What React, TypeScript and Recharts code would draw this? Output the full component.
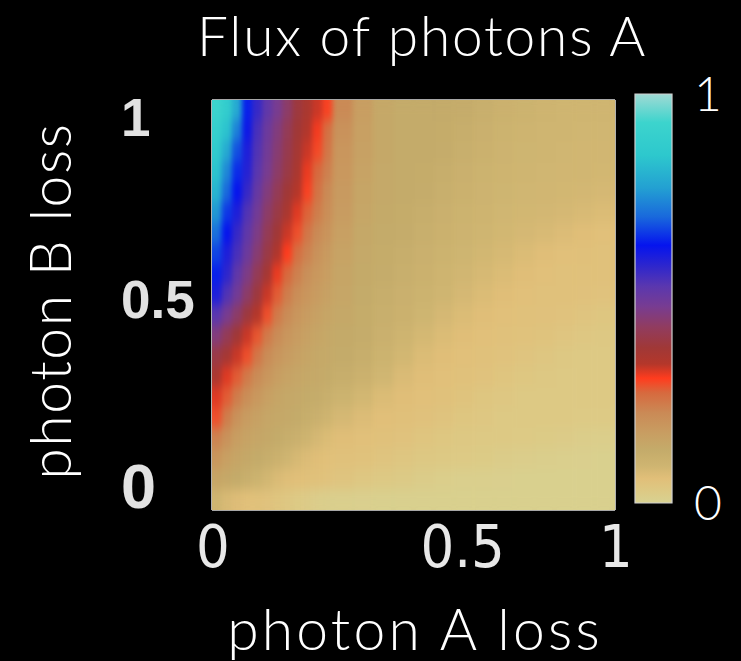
import React from "react";
import { ScatterChart, Scatter, XAxis, YAxis, BarChart, Bar } from "recharts";

// column edges in "photon A loss" (finer on the left where the flux changes fast)
const xEdges = [
  0, 0.025, 0.05, 0.075, 0.1, 0.125, 0.15, 0.175, 0.2, 0.225, 0.25, 0.275, 0.3,
  0.35, 0.4, 0.45, 0.5, 0.55, 0.6, 0.65, 0.7, 0.75, 0.8, 0.85, 0.9, 0.95, 1,
];
// row edges in "photon B loss", top to bottom
const yEdges = [
  1, 0.95, 0.9, 0.85, 0.8, 0.75, 0.7, 0.65, 0.6, 0.55, 0.5, 0.45, 0.4, 0.35,
  0.3, 0.25, 0.2, 0.15, 0.1, 0.05, 0,
];

// flux of photons A, one row per yEdges band (top row first)
const fluxRows: number[][] = [
  [0.93, 0.88, 0.79, 0.64, 0.57, 0.52, 0.48, 0.44, 0.39, 0.36, 0.33, 0.3, 0.22, 0.17, 0.14, 0.13, 0.13, 0.13, 0.125, 0.115, 0.105, 0.1, 0.095, 0.09, 0.09, 0.09],
  [0.9, 0.84, 0.73, 0.62, 0.55, 0.5, 0.46, 0.42, 0.38, 0.345, 0.31, 0.26, 0.2, 0.165, 0.14, 0.13, 0.13, 0.128, 0.12, 0.11, 0.1, 0.095, 0.09, 0.09, 0.088, 0.088],
  [0.87, 0.79, 0.68, 0.6, 0.54, 0.49, 0.45, 0.41, 0.37, 0.33, 0.295, 0.25, 0.19, 0.16, 0.14, 0.13, 0.13, 0.125, 0.115, 0.105, 0.098, 0.092, 0.09, 0.088, 0.087, 0.087],
  [0.84, 0.74, 0.65, 0.59, 0.53, 0.48, 0.44, 0.4, 0.36, 0.315, 0.27, 0.235, 0.185, 0.155, 0.135, 0.13, 0.128, 0.12, 0.11, 0.1, 0.094, 0.09, 0.088, 0.087, 0.086, 0.085],
  [0.81, 0.7, 0.63, 0.57, 0.51, 0.46, 0.42, 0.38, 0.34, 0.3, 0.255, 0.22, 0.18, 0.15, 0.135, 0.13, 0.125, 0.115, 0.105, 0.097, 0.092, 0.088, 0.086, 0.085, 0.084, 0.08],
  [0.76, 0.66, 0.6, 0.54, 0.49, 0.44, 0.4, 0.36, 0.32, 0.275, 0.24, 0.21, 0.175, 0.145, 0.133, 0.128, 0.12, 0.11, 0.1, 0.093, 0.088, 0.085, 0.083, 0.08, 0.075, 0.07],
  [0.71, 0.63, 0.57, 0.52, 0.47, 0.42, 0.38, 0.33, 0.29, 0.25, 0.22, 0.195, 0.165, 0.14, 0.13, 0.125, 0.115, 0.105, 0.097, 0.09, 0.085, 0.08, 0.075, 0.068, 0.062, 0.058],
  [0.67, 0.6, 0.55, 0.5, 0.45, 0.4, 0.35, 0.305, 0.26, 0.23, 0.2, 0.18, 0.155, 0.135, 0.128, 0.12, 0.11, 0.1, 0.092, 0.085, 0.078, 0.07, 0.062, 0.058, 0.056, 0.055],
  [0.64, 0.58, 0.52, 0.47, 0.42, 0.37, 0.315, 0.27, 0.235, 0.205, 0.185, 0.17, 0.15, 0.133, 0.125, 0.115, 0.105, 0.095, 0.087, 0.078, 0.07, 0.062, 0.057, 0.055, 0.055, 0.055],
  [0.6, 0.54, 0.49, 0.44, 0.39, 0.33, 0.28, 0.24, 0.21, 0.19, 0.175, 0.16, 0.145, 0.13, 0.12, 0.11, 0.1, 0.09, 0.08, 0.07, 0.062, 0.057, 0.055, 0.055, 0.053, 0.05],
  [0.53, 0.48, 0.44, 0.39, 0.34, 0.29, 0.245, 0.215, 0.19, 0.175, 0.16, 0.15, 0.14, 0.128, 0.115, 0.105, 0.092, 0.08, 0.07, 0.062, 0.057, 0.055, 0.053, 0.05, 0.045, 0.04],
  [0.46, 0.42, 0.38, 0.33, 0.285, 0.245, 0.215, 0.19, 0.175, 0.16, 0.15, 0.14, 0.133, 0.125, 0.11, 0.095, 0.082, 0.07, 0.062, 0.057, 0.055, 0.052, 0.048, 0.042, 0.035, 0.032],
  [0.4, 0.37, 0.33, 0.29, 0.25, 0.215, 0.19, 0.175, 0.16, 0.15, 0.14, 0.135, 0.13, 0.12, 0.1, 0.085, 0.07, 0.062, 0.057, 0.055, 0.05, 0.045, 0.038, 0.033, 0.03, 0.03],
  [0.36, 0.32, 0.28, 0.245, 0.215, 0.19, 0.17, 0.155, 0.145, 0.14, 0.135, 0.13, 0.12, 0.105, 0.088, 0.072, 0.062, 0.057, 0.055, 0.05, 0.043, 0.037, 0.032, 0.03, 0.03, 0.03],
  [0.32, 0.28, 0.24, 0.21, 0.185, 0.165, 0.15, 0.14, 0.135, 0.13, 0.125, 0.115, 0.1, 0.085, 0.07, 0.062, 0.057, 0.054, 0.048, 0.04, 0.035, 0.031, 0.03, 0.03, 0.03, 0.03],
  [0.29, 0.24, 0.2, 0.175, 0.16, 0.145, 0.14, 0.135, 0.13, 0.12, 0.11, 0.095, 0.08, 0.068, 0.06, 0.056, 0.053, 0.047, 0.04, 0.035, 0.031, 0.03, 0.03, 0.03, 0.028, 0.027],
  [0.23, 0.2, 0.17, 0.155, 0.145, 0.138, 0.13, 0.12, 0.11, 0.095, 0.08, 0.07, 0.062, 0.057, 0.054, 0.05, 0.043, 0.037, 0.032, 0.03, 0.03, 0.028, 0.025, 0.022, 0.018, 0.015],
  [0.19, 0.165, 0.15, 0.14, 0.13, 0.12, 0.105, 0.09, 0.078, 0.068, 0.062, 0.058, 0.055, 0.052, 0.045, 0.038, 0.033, 0.03, 0.028, 0.025, 0.02, 0.016, 0.012, 0.01, 0.009, 0.008],
  [0.15, 0.14, 0.13, 0.115, 0.1, 0.085, 0.072, 0.064, 0.06, 0.056, 0.054, 0.05, 0.044, 0.036, 0.03, 0.026, 0.02, 0.015, 0.011, 0.01, 0.009, 0.008, 0.008, 0.008, 0.008, 0.008],
  [0.09, 0.075, 0.065, 0.058, 0.055, 0.05, 0.043, 0.035, 0.028, 0.022, 0.016, 0.012, 0.01, 0.009, 0.008, 0.008, 0.008, 0.008, 0.008, 0.008, 0.008, 0.008, 0.008, 0.008, 0.008, 0.008],
];

// colour scale (value -> colour)
const cmapStops = [0, 0.03, 0.06, 0.09, 0.13, 0.17, 0.22, 0.27, 0.305, 0.34, 0.38, 0.43, 0.48, 0.53, 0.58, 0.63, 0.7, 0.77, 0.85, 0.93, 1];
const cmapColors = [
  "#d8d292", "#ddc984", "#e1bf79", "#cfb571", "#c4ab6a", "#c89e62", "#ca8a56",
  "#d7693e", "#ff3c1e", "#b4372a", "#a03837", "#913c5f", "#783c91", "#5a37af",
  "#2d26cd", "#0514ee", "#1969dc", "#23a0d2", "#2dc8cd", "#3cd4cd", "#a0dad4",
];

const xTicks = [0, 0.5, 1];
const yTicks = [0, 0.5, 1];
const xMinorTicks = [0.2, 0.4, 0.6, 0.8];
const yMinorTicks = [0.1, 0.2, 0.3, 0.4, 0.5, 0.6, 0.7, 0.8, 0.9];
const colorbarTicks = [0.076, 0.161, 0.244, 0.33, 0.413, 0.499, 0.584, 0.67, 0.756, 0.841, 0.927];
const colorbarLabels = [0, 1];

const W = 741;
const H = 661;
const MARGIN = { top: 100, right: 126, bottom: 91, left: 122 };
const Y_AXIS_W = 90;
const X_AXIS_H = 60;
const PLOT_W = W - MARGIN.left - MARGIN.right - Y_AXIS_W;
const PLOT_H = H - MARGIN.top - MARGIN.bottom - X_AXIS_H;

const FRAME = "#dedede";
const THIN_FONT = "'Lato', 'Open Sans', 'DejaVu Sans', sans-serif";

function hexToRgb(h: string) {
  return [1, 3, 5].map((i) => parseInt(h.slice(i, i + 2), 16));
}

function fluxColor(v: number) {
  const t = Math.max(0, Math.min(1, v));
  let i = 0;
  while (i < cmapStops.length - 2 && t > cmapStops[i + 1]) i++;
  const f = (t - cmapStops[i]) / (cmapStops[i + 1] - cmapStops[i]);
  const a = hexToRgb(cmapColors[i]);
  const b = hexToRgb(cmapColors[i + 1]);
  const c = a.map((ai, k) => Math.round(ai + (b[k] - ai) * f));
  return `rgb(${c[0]},${c[1]},${c[2]})`;
}

const cells = fluxRows.flatMap((row, r) =>
  row.map((v, c) => ({
    x: (xEdges[c] + xEdges[c + 1]) / 2,
    y: (yEdges[r] + yEdges[r + 1]) / 2,
    w: xEdges[c + 1] - xEdges[c],
    h: yEdges[r] - yEdges[r + 1],
    v,
  }))
);

const renderCell = (props: any) => {
  const { cx, cy, payload } = props;
  const w = payload.w * PLOT_W;
  const h = payload.h * PLOT_H;
  const fill = fluxColor(payload.v);
  return (
    <rect x={cx - w / 2} y={cy - h / 2} width={w} height={h} fill={fill} stroke={fill} strokeWidth={0.8} />
  );
};

const LeftTick = (props: any) => {
  const { x, y, payload } = props;
  const v = payload.value;
  // labels sit inside the axis range: top one hangs, bottom one sits on the edge
  const dy = v === 1 ? 36 : v === 0 ? -2 : 13;
  const size = v === 0 ? 63 : 53;
  return (
    <text x={x - 83} y={y + dy} textAnchor="start" fill="#e2e2e2" fontSize={size} fontWeight="bold"
      fontFamily="'Liberation Sans', Arial, sans-serif">
      {v}
    </text>
  );
};

const BottomTick = (props: any) => {
  const { x, y, payload } = props;
  const v = payload.value;
  const mid = v === 0.5;
  return (
    <text x={mid ? x + 7 : x + 1} y={y + 49} textAnchor={mid ? "start" : "middle"} fill="#e8e8e8" fontSize={59}
      fontFamily="'Liberation Sans Narrow', 'DejaVu Sans Condensed', 'Liberation Sans', sans-serif">
      {v}
    </text>
  );
};

const ColorbarTick = (props: any) => {
  const { x, y, payload } = props;
  return (
    <text x={x} y={y} dy="0.36em" textAnchor="start" fill="#ffffff" fontSize={48} fontWeight={300} fontFamily={THIN_FONT}>
      {payload.value}
    </text>
  );
};

const colorbarData = [{ name: "flux", top: 1 }];

export default function App() {
  // mirrored helper axes: they draw the plot frame and the small inward ticks
  const minorAxis = {
    type: "number" as const,
    domain: [0, 1],
    mirror: true,
    tick: false,
    tickSize: 5,
    tickLine: { stroke: "#ffffff", strokeWidth: 1.2 },
    axisLine: { stroke: FRAME, strokeWidth: 1.6 },
  };
  const cbMarks = {
    type: "number" as const,
    domain: [0, 1],
    mirror: true,
    tick: false,
    tickSize: 4,
    width: 1,
    ticks: colorbarTicks,
    tickLine: { stroke: "#ffffff", strokeWidth: 1.2 },
    axisLine: false,
  };
  return (
    <div style={{ position: "absolute", left: 0, top: 0, width: W, height: H, background: "#000", overflow: "hidden" }}>
      <style>{`.flux-heat .recharts-scatter { filter: url(#heatBlur); }`}</style>
      <div className="flux-heat" style={{ position: "absolute", left: 0, top: 0 }}>
        <ScatterChart width={W} height={H} margin={MARGIN}>
          <defs>
            <filter id="heatBlur" x="0" y="0" width="1" height="1" colorInterpolationFilters="sRGB">
              <feGaussianBlur stdDeviation="2.5 6" edgeMode="duplicate" />
              <feComponentTransfer>
                <feFuncA type="linear" slope={10} intercept={0} />
              </feComponentTransfer>
            </filter>
          </defs>
          <XAxis xAxisId="x" dataKey="x" type="number" domain={[0, 1]} ticks={xTicks} height={X_AXIS_H}
            axisLine={false} tickLine={false} tick={<BottomTick />} />
          <YAxis yAxisId="y" dataKey="y" type="number" domain={[0, 1]} ticks={yTicks} width={Y_AXIS_W}
            axisLine={false} tickLine={false} tick={<LeftTick />} />
          <Scatter data={cells} xAxisId="x" yAxisId="y" shape={renderCell} isAnimationActive={false} />
          <XAxis xAxisId="top" orientation="top" height={1} ticks={xMinorTicks} {...minorAxis} />
          <XAxis xAxisId="bottom" orientation="bottom" height={1} ticks={xMinorTicks} {...minorAxis} />
          <YAxis yAxisId="left" orientation="left" width={1} ticks={yMinorTicks} {...minorAxis} />
          <YAxis yAxisId="right" orientation="right" width={1} ticks={yMinorTicks} {...minorAxis} />
        </ScatterChart>
      </div>

      <div style={{ position: "absolute", left: 620, top: 0 }}>
        <BarChart width={121} height={H} data={colorbarData} margin={{ top: 94, right: 0, bottom: 158, left: 15 }}
          barCategoryGap={0}>
          <defs>
            <linearGradient id="cmapGrad" x1="0" y1="1" x2="0" y2="0">
              {cmapStops.map((s, i) => (
                <stop key={i} offset={s} stopColor={cmapColors[i]} />
              ))}
            </linearGradient>
          </defs>
          <XAxis dataKey="name" hide />
          <YAxis yAxisId="cb" orientation="right" width={69} type="number" domain={[0, 1]} ticks={colorbarLabels}
            axisLine={false} tickLine={false} tickMargin={16} tick={<ColorbarTick />} />
          <Bar dataKey="top" yAxisId="cb" fill="url(#cmapGrad)" stroke="#d0d0d0" strokeWidth={1.2}
            isAnimationActive={false} />
          <YAxis yAxisId="cbLeft" orientation="left" {...cbMarks} />
          <YAxis yAxisId="cbRight" orientation="right" {...cbMarks} />
        </BarChart>
      </div>

      <svg width={W} height={H} style={{ position: "absolute", left: 0, top: 0, pointerEvents: "none" }}>
        <text x={422} y={56} textAnchor="middle" fill="#ffffff" fontSize={55} fontWeight={300} letterSpacing={1.8}
          fontFamily={THIN_FONT}>
          Flux of photons A
        </text>
        <text transform="translate(71,301) rotate(-90)" textAnchor="middle" fill="#ffffff" fontSize={57}
          fontWeight={300} letterSpacing={1.6} fontFamily={THIN_FONT}>
          photon B loss
        </text>
        <text x={415} y={650} textAnchor="middle" fill="#ffffff" fontSize={57} fontWeight={300} letterSpacing={3.2}
          fontFamily={THIN_FONT}>
          photon A loss
        </text>
      </svg>
    </div>
  );
}
